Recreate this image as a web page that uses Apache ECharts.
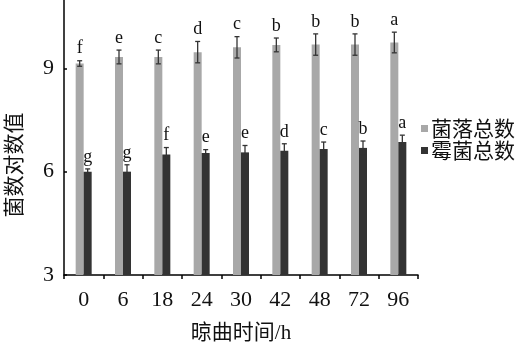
<!DOCTYPE html>
<html><head><meta charset="utf-8">
<script src="https://cdn.jsdelivr.net/npm/echarts@6/dist/echarts.min.js"></script>
<style>html,body{margin:0;padding:0;background:#fff}#c{width:522px;height:351px}</style>
</head><body><div id="c"></div>
<script>
const categories = ['0','6','18','24','30','42','48','72','96'];
const colonyName = '菌落总数';
const mouldName = '霉菌总数';
const colonyValues = [9.14, 9.33, 9.33, 9.47, 9.61, 9.68, 9.69, 9.69, 9.75];
const colonyErrors = [0.08, 0.2, 0.2, 0.31, 0.31, 0.2, 0.31, 0.31, 0.3];
const colonyLetters = ['f','e','c','d','c','b','b','b','a'];
const mouldValues = [6.0, 6.0, 6.5, 6.54, 6.56, 6.61, 6.66, 6.69, 6.86];
const mouldErrors = [0.08, 0.2, 0.2, 0.1, 0.2, 0.2, 0.2, 0.2, 0.2];
const mouldLetters = ['g','g','f','e','e','d','c','b','a'];
const yTicks = [3, 6, 9];

const BAR_W = 8;
const serif = "'Liberation Serif','Noto Sans CJK SC'";
const chart = echarts.init(document.getElementById('c'));

function errSeries(values, errors, letters, side) {
  return {
    type: 'custom',
    silent: true,
    z: 5,
    data: values.map((v, i) => [i, v, errors[i]]),
    renderItem(params, api) {
      const i = api.value(0), v = api.value(1), e = api.value(2);
      const letter = letters[i];
      const c = api.coord([i, v]);
      const x = c[0] + side * BAR_W / 2;
      const top = api.coord([i, v + e])[1];
      const bot = api.coord([i, v - e])[1];
      const cap = 2.5;
      const st = { stroke: '#333', lineWidth: 1.3 };
      return { type: 'group', children: [
        { type: 'line', shape: { x1: x, y1: top, x2: x, y2: bot }, style: st },
        { type: 'line', shape: { x1: x - cap, y1: top, x2: x + cap, y2: top }, style: st },
        { type: 'line', shape: { x1: x - cap, y1: bot, x2: x + cap, y2: bot }, style: st },
        { type: 'text', x: x, y: top - 3, style: { text: letter, fill: '#111', font: "18px 'Liberation Serif'", align: 'center', verticalAlign: 'bottom' } }
      ]};
    }
  };
}

chart.setOption({
  animation: false,
  backgroundColor: '#fff',
  grid: { left: 64, right: 104, top: -35, bottom: 76, outerBoundsMode: 'none', containLabel: false },
  legend: {
    orient: 'vertical', left: 416, top: 113, itemWidth: 7, itemHeight: 7, itemGap: 1,
    icon: 'rect',
    textStyle: { fontSize: 21, color: '#111', fontFamily: "'Noto Sans CJK SC'", padding: [0,0,0,-2] },
    data: [colonyName, mouldName]
  },
  xAxis: {
    type: 'category', data: categories,
    name: '晾曲时间/h', nameLocation: 'middle', nameGap: 48,
    nameTextStyle: { fontSize: 21, color: '#111', fontFamily: serif },
    axisLine: { lineStyle: { color: '#000', width: 1.5 } },
    axisTick: { show: true, inside: false, length: 4, lineStyle: { color: '#000', width: 1.5 } },
    axisLabel: { fontSize: 22, color: '#111', fontFamily: serif, margin: 14 }
  },
  yAxis: {
    type: 'value', min: 3, max: 12, interval: 3,
    name: '菌数对数值', nameLocation: 'middle', nameGap: 40,
    nameTextStyle: { fontSize: 21, color: '#111', fontFamily: "'Noto Sans CJK SC'", padding: [0, 90, 0, 0] },
    axisLine: { show: true, lineStyle: { color: '#000', width: 1.5 } },
    axisTick: { show: true, inside: true, length: 3, lineStyle: { color: '#000', width: 1.5 } },
    axisLabel: { fontSize: 22, color: '#111', fontFamily: serif, margin: 10,
      formatter: v => yTicks.includes(v) ? String(v) : '' },
    splitLine: { show: false }
  },
  series: [
    { name: colonyName, type: 'bar', data: colonyValues, barWidth: BAR_W, barGap: '0%', itemStyle: { color: '#a8a8a8' } },
    { name: mouldName, type: 'bar', data: mouldValues, barWidth: BAR_W, barGap: '0%', itemStyle: { color: '#333333' } },
    errSeries(colonyValues, colonyErrors, colonyLetters, -1),
    errSeries(mouldValues, mouldErrors, mouldLetters, 1)
  ]
});
</script></body></html>
